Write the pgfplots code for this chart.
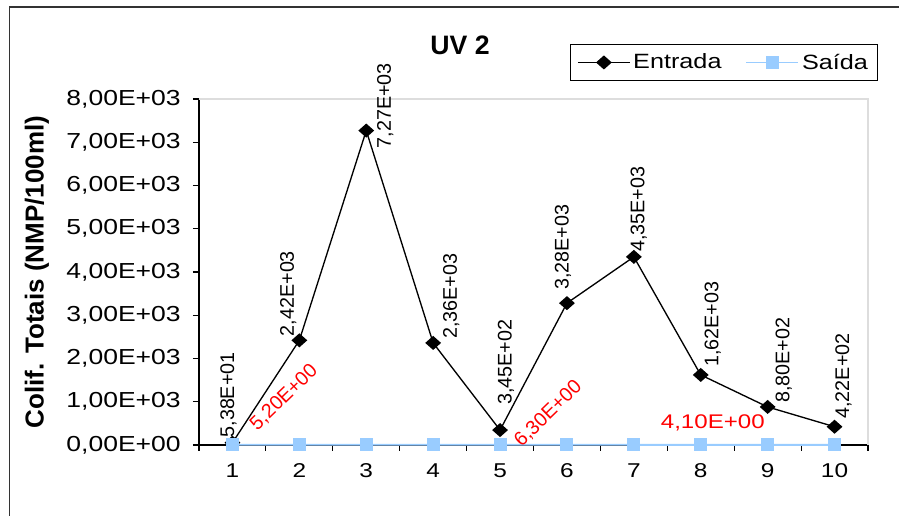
\documentclass[border=0pt]{standalone}
\usepackage{fontspec}
\setmainfont{Liberation Sans}
\newfontfamily\sfh{Liberation Sans}[FakeStretch=1.22]
\usepackage{pgfplots}
\pgfplotsset{compat=1.18}
\definecolor{saida}{HTML}{99CCFF}
\definecolor{pborder}{HTML}{DDDDDD}
\newcommand\tickfont{\sfh\fontsize{15}{18}\selectfont}
\newcommand\ytickfont{\sfh\fontsize{16.3}{19}\selectfont}
\newcommand\lblfont{\fontsize{14.8}{17}\selectfont}
\begin{document}
\begin{tikzpicture}
\path[use as bounding box] (-149.25pt,-53.25pt) rectangle (525pt,333.75pt);
\begin{axis}[
  at={(0,0)}, anchor=south west,
  scale only axis, width=501.75pt, height=259.5pt,
  xmin=0.5, xmax=10.5, ymin=0, ymax=8000,
  axis lines=left, axis line style={-, black, line width=0.9pt},
  clip=false,
  tick align=outside,
  major tick length=4.5pt,
  tick style={black, line width=0.8pt},
  xtick={0.5,1.5,2.5,3.5,4.5,5.5,6.5,7.5,8.5,9.5,10.5},
  xticklabels={},
  extra x ticks={1,2,3,4,5,6,7,8,9,10},
  extra x tick labels={1,2,3,4,5,6,7,8,9,10},
  extra x tick style={major tick length=0pt, xticklabel style={anchor=north, inner sep=0pt, yshift=-14pt}},
  ytick={0,1000,2000,3000,4000,5000,6000,7000,8000},
  yticklabels={{0,00E+00},{1,00E+03},{2,00E+03},{3,00E+03},{4,00E+03},{5,00E+03},{6,00E+03},{7,00E+03},{8,00E+03}},
  yticklabel style={anchor=east, inner sep=0pt, font=\ytickfont, xshift=-9pt},
  xticklabel style={font=\tickfont},
  legend columns=2,
  legend style={at={(0.5546,1.159)}, anchor=north west, draw=black, line width=0.8pt,
    font=\sfh\fontsize{15.5}{18}\selectfont, inner xsep=5pt, inner ysep=5pt,
    /tikz/every even column/.append style={column sep=16pt}},
  legend image code/.code={\draw[mark repeat=2,mark phase=2,#1] plot coordinates {(0pt,0pt) (19.5pt,0pt) (39pt,0pt)};},
]
\draw[pborder, line width=0.8pt] (rel axis cs:0,1) -- (rel axis cs:1,1) -- (rel axis cs:1,0);
\addplot[black, line width=1pt, mark=diamond*, mark size=4.6pt, mark options={xscale=1.5, solid, fill=black}]
  coordinates {(1,53.8) (2,2420) (3,7270) (4,2360) (5,345) (6,3280) (7,4350) (8,1620) (9,880) (10,422)};
\addlegendentry{Entrada}
\addplot[saida, line width=1.4pt, mark=square*, mark size=4.2pt, mark options={solid, fill=saida, draw=saida}]
  coordinates {(1,5.2) (2,5.2) (3,5.2) (4,5.2) (5,6.3) (6,6.3) (7,4.1) (8,4.1) (9,4.1) (10,4.1)};
\addlegendentry{Saída}
\tikzset{lbl/.style={rotate=90, anchor=west, inner sep=0pt, font=\lblfont}}
\node[lbl] at ([shift={(-3pt,3.75pt)}]axis cs:1,53.8) {5,38E+01};
\node[lbl] at ([shift={(-8.25pt,3pt)}]axis cs:2,2420) {2,42E+03};
\node[lbl] at ([shift={(14.25pt,-13.5pt)}]axis cs:3,7270) {7,27E+03};
\node[lbl] at ([shift={(13.5pt,3pt)}]axis cs:4,2360) {2,36E+03};
\node[lbl] at ([shift={(4.5pt,18.75pt)}]axis cs:5,345) {3,45E+02};
\node[lbl] at ([shift={(-3pt,9.75pt)}]axis cs:6,3280) {3,28E+03};
\node[lbl] at ([shift={(3.75pt,3.75pt)}]axis cs:7,4350) {4,35E+03};
\node[lbl] at ([shift={(9pt,6pt)}]axis cs:8,1620) {1,62E+03};
\node[lbl] at ([shift={(12pt,3pt)}]axis cs:9,880) {8,80E+02};
\node[lbl] at ([shift={(6.75pt,6pt)}]axis cs:10,422) {4,22E+02};
\node[red, rotate=44, inner sep=0pt, font=\lblfont] at (axis cs:1.77,1100) {5,20E+00};
\node[red, rotate=44, inner sep=0pt, font=\lblfont] at (axis cs:5.72,720) {6,30E+00};
\node[red, inner sep=0pt, font=\sfh\fontsize{14.8}{17}\selectfont] at (axis cs:8.18,509) {4,10E+00};
\end{axis}
\node[font=\bfseries\fontsize{20}{24}\selectfont] at (195.75pt,300pt) {UV 2};
\node[rotate=90, font=\bfseries\fontsize{19.5}{23}\selectfont] at (-121.5pt,129.75pt) {Colif. Totais (NMP/100ml)};
\draw[black!80, line width=1pt] (-142pt,-80pt) -- (-142pt,328.5pt) -- (560pt,328.5pt);
\end{tikzpicture}
\end{document}
